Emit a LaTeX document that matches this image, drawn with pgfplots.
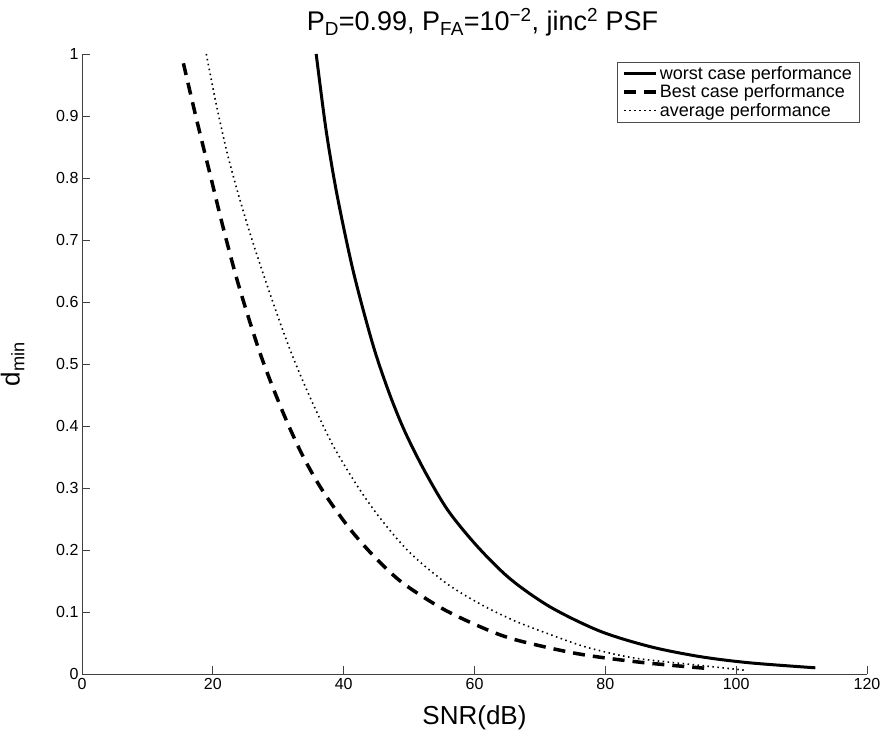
\documentclass[border=0pt]{standalone}
\usepackage{fontspec}
\setmainfont{Liberation Sans}
\usepackage{pgfplots}
\pgfplotsset{compat=1.18}
\begin{document}
\begin{tikzpicture}
\useasboundingbox (-82bp,-62bp) rectangle (801bp,674bp);
\begin{axis}[
  scale only axis, width=785bp, height=620bp,
  xmin=0, xmax=120, ymin=0, ymax=1,
  xtick={0,20,40,60,80,100,120},
  ytick={0,0.1,0.2,0.3,0.4,0.5,0.6,0.7,0.8,0.9,1},
  /pgf/number format/assume math mode=true,
  axis x line*=bottom, axis y line*=left,
  axis line style={-, draw=black!75, line width=0.8bp},
  tick align=inside, major tick length=8bp,
  tick style={black!75, line width=0.7bp},
  ticklabel style={font=\fontsize{16bp}{19bp}\selectfont},
  xticklabel style={yshift=-1bp},
  title={P\textsubscript{D}=0.99, P\textsubscript{FA}=10\textsuperscript{−2}, jinc\textsuperscript{2} PSF},
  title style={font=\fontsize{27bp}{30bp}\selectfont, at={(0.5,1)}, anchor=south, yshift=8bp, xshift=8bp},
  xlabel={SNR(dB)},
  xlabel style={font=\fontsize{26bp}{30bp}\selectfont, yshift=-9bp},
  ylabel={d\textsubscript{min}},
  ylabel style={font=\fontsize{26bp}{30bp}\selectfont, yshift=25bp},
  legend style={at={(0.99,0.987)}, anchor=north east, draw=black!70, line width=0.6bp,
    font=\fontsize{18bp}{20bp}\selectfont, row sep=0bp, inner xsep=5bp, inner ysep=2bp},
  legend cell align=left,
  legend image code/.code={\draw[#1] (0bp,0bp) -- (32bp,0bp);},
]
\addplot[black, line width=3bp, smooth] coordinates {
(35.8,1.000) (37.3,0.878) (39.0,0.772) (41.5,0.648) (44.5,0.530) (47.0,0.452)
(49.4,0.390) (52.5,0.325) (56.0,0.263) (60.5,0.205) (65.5,0.153) (71.6,0.108)
(79.2,0.069) (86.9,0.044) (94.5,0.028) (102.1,0.018) (112.1,0.010)
};
\addlegendentry{worst case performance}
\addplot[black, line width=3.5bp, dash pattern=on 12bp off 8bp, smooth] coordinates {
(15.5,0.985) (17.5,0.895) (19.6,0.805) (21.7,0.715) (24.0,0.625) (27.3,0.515)
(30.6,0.425) (33.6,0.355) (36.7,0.297) (40.8,0.236) (44.8,0.188) (49.0,0.147)
(55.0,0.106) (60.7,0.077) (66.0,0.056) (75.6,0.033) (85.3,0.019) (95.5,0.009)
};
\addlegendentry{Best case performance}
\addplot[black, line width=1.6bp, dash pattern=on 1.5bp off 3.5bp, smooth] coordinates {
(19.0,1.000) (20.5,0.920) (22.2,0.840) (24.0,0.770) (26.0,0.700) (28.1,0.633)
(30.1,0.572) (32.1,0.515) (34.7,0.450) (38.2,0.372) (41.8,0.308) (44.8,0.262)
(48.0,0.220) (51.0,0.187) (56.0,0.144) (61.2,0.111) (66.3,0.085) (72.0,0.062)
(77.2,0.043) (84.3,0.026) (93.5,0.015) (101.4,0.006)
};
\addlegendentry{average performance}
\end{axis}
\end{tikzpicture}
\end{document}
